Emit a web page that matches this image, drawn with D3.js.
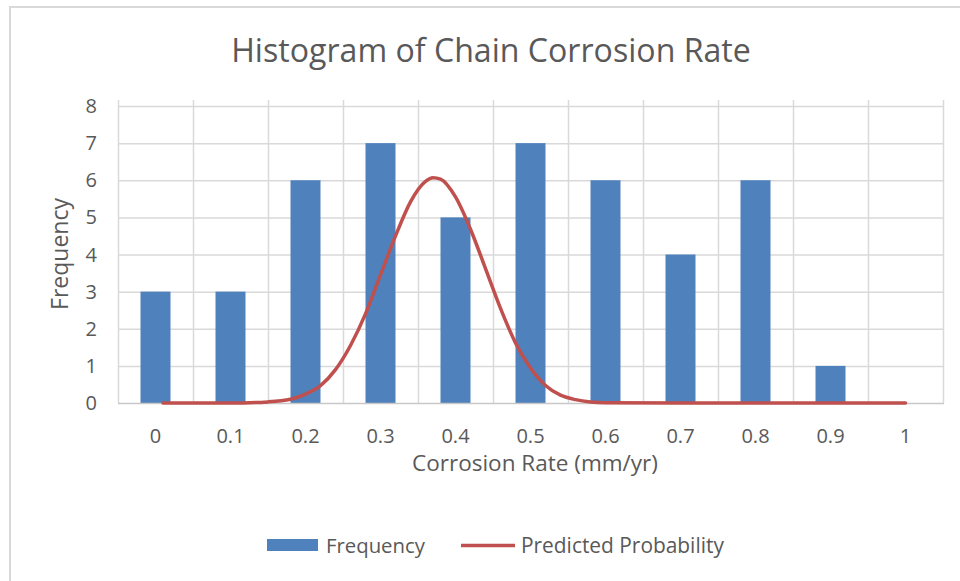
<!DOCTYPE html>
<html>
<head>
<meta charset="utf-8">
<script src="https://cdn.jsdelivr.net/npm/d3@7/dist/d3.min.js"></script>
<style>
  html, body { margin: 0; padding: 0; background: #ffffff; }
  svg { display: block; }
  text { font-family: "Open Sans", "Noto Sans", sans-serif; fill: #595959; }
</style>
</head>
<body>
<svg id="chart" width="960" height="581"></svg>
<script>
// ---- data ----
const categories = ["0", "0.1", "0.2", "0.3", "0.4", "0.5", "0.6", "0.7", "0.8", "0.9", "1"];
const frequency = [3, 3, 6, 7, 5, 7, 6, 4, 6, 1, 0];
const curveX = [0.01, 0.10, 0.15, 0.18, 0.20, 0.22, 0.24, 0.26, 0.28, 0.30, 0.32, 0.34, 0.36, 0.37, 0.38,
                0.40, 0.42, 0.44, 0.46, 0.48, 0.50, 0.52, 0.54, 0.56, 0.58, 0.60, 0.70, 0.80, 0.90, 1.00];
const predictedProbability = [0, 0.00, 0.03, 0.10, 0.24, 0.47, 0.90, 1.55, 2.40, 3.45, 4.50, 5.42, 5.97, 6.07, 6.03,
                5.55, 4.68, 3.62, 2.55, 1.62, 0.94, 0.47, 0.21, 0.09, 0.03, 0.01, 0, 0, 0, 0];
const yTicks = [0, 1, 2, 3, 4, 5, 6, 7, 8];
const chartTitle = "Histogram of Chain Corrosion Rate";
const xTitle = "Corrosion Rate (mm/yr)";
const yTitle = "Frequency";
const seriesNames = ["Frequency", "Predicted Probability"];

// ---- layout ----
const svg = d3.select("#chart");
const W = 960, H = 581;
const plot = { left: 118, right: 943, top: 106, bottom: 403 };
const barColor = "#4f81bd", lineColor = "#c0504d", gridColor = "#d9d9d9";

function fit(sel, target) {
  const base = 20;
  sel.attr("font-size", base);
  const len = sel.node().getComputedTextLength();
  sel.attr("font-size", base * target / len);
  return sel;
}

// outer chart border (cropped on right & bottom)
svg.append("rect").attr("x", 10).attr("y", 7).attr("width", W + 20).attr("height", H + 20)
  .attr("fill", "#ffffff").attr("stroke", gridColor).attr("stroke-width", 2);

const x = d3.scaleBand().domain(categories).range([plot.left, plot.right]).paddingInner(0).paddingOuter(0);
const bw = x.bandwidth();
const xLin = d3.scaleLinear().domain([0, 1])
  .range([x(categories[0]) + bw / 2, x(categories[categories.length - 1]) + bw / 2]);
const y = d3.scaleLinear().domain([0, 8]).range([plot.bottom, plot.top]);

// horizontal gridlines
svg.append("g").selectAll("line").data(yTicks.filter(d => d > 0)).join("line")
  .attr("x1", plot.left).attr("x2", plot.right)
  .attr("y1", d => y(d) + 0.5).attr("y2", d => y(d) + 0.5)
  .attr("stroke", gridColor).attr("stroke-width", 1.5);

// vertical gridlines (band boundaries), extending slightly above plot
const bounds = categories.map(c => x(c)).concat([plot.right]);
svg.append("g").selectAll("line").data(bounds).join("line")
  .attr("x1", d => d + 0.5).attr("x2", d => d + 0.5)
  .attr("y1", plot.top - 6).attr("y2", plot.bottom)
  .attr("stroke", gridColor).attr("stroke-width", 1.5);

// bars
const barW = bw * 0.4;
svg.append("g").selectAll("rect").data(frequency).join("rect")
  .attr("x", (d, i) => x(categories[i]) + (bw - barW) / 2)
  .attr("width", barW)
  .attr("y", d => y(d))
  .attr("height", d => y(0) - y(d))
  .attr("fill", barColor);

// bottom axis line
svg.append("line").attr("x1", plot.left).attr("x2", plot.right + 1)
  .attr("y1", plot.bottom + 0.5).attr("y2", plot.bottom + 0.5)
  .attr("stroke", "#c8c8c8").attr("stroke-width", 1.5);

// predicted probability line
const pts = curveX.map((v, i) => [v, predictedProbability[i]]);
svg.append("path").datum(pts)
  .attr("d", d3.line().x(d => xLin(d[0])).y(d => y(d[1])).curve(d3.curveMonotoneX))
  .attr("fill", "none").attr("stroke", lineColor).attr("stroke-width", 3.5)
  .attr("stroke-linecap", "round");

// y tick labels
svg.append("g").selectAll("text").data(yTicks).join("text")
  .attr("x", 97).attr("y", d => y(d)).attr("dy", "0.35em")
  .attr("text-anchor", "end").attr("font-size", 20).text(d => d);

// x tick labels
svg.append("g").selectAll("text").data(categories).join("text")
  .attr("x", d => x(d) + bw / 2).attr("y", 443)
  .attr("text-anchor", "middle").attr("font-size", 20).text(d => d);

// titles
fit(svg.append("text").attr("x", 491).attr("y", 62).attr("text-anchor", "middle").text(chartTitle), 520);
fit(svg.append("text").attr("x", 535).attr("y", 471).attr("text-anchor", "middle").text(xTitle), 246);
fit(svg.append("text").attr("transform", "translate(68,254) rotate(-90)")
  .attr("text-anchor", "middle").text(yTitle), 112);

// legend
const lg = svg.append("g");
lg.append("rect").attr("x", 267).attr("y", 539).attr("width", 51).attr("height", 12).attr("fill", barColor);
fit(lg.append("text").attr("x", 326).attr("y", 553).text(seriesNames[0]), 99);
lg.append("line").attr("x1", 461).attr("x2", 515).attr("y1", 545.5).attr("y2", 545.5)
  .attr("stroke", lineColor).attr("stroke-width", 3.5);
fit(lg.append("text").attr("x", 521).attr("y", 553).text(seriesNames[1]), 203);
</script>
</body>
</html>
